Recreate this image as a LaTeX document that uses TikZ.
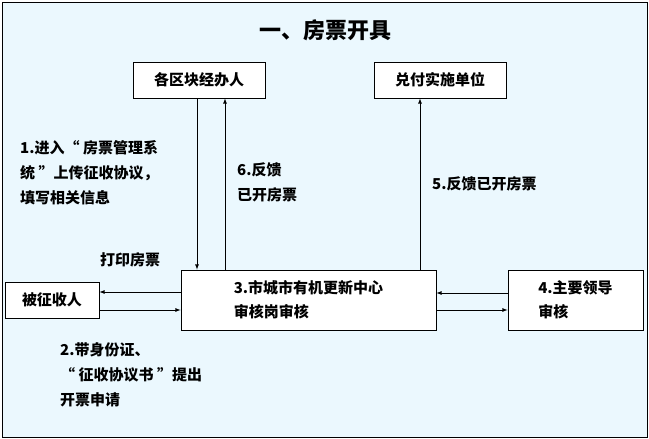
\documentclass[tikz,border=0pt]{standalone}
\usepackage{fontspec}
\setmainfont{Noto Sans CJK SC}
\begin{document}
\begin{tikzpicture}[x=1pt,y=-1pt,
  box/.style={draw=black,line width=0.8pt,fill=white,inner sep=0pt,font=\fontsize{15}{24}\selectfont\bfseries},
  lbl/.style={align=left,anchor=north west,inner sep=0pt,font=\fontsize{15}{25}\selectfont\bfseries},
  arr/.style={-latex,line width=0.8pt}]
\useasboundingbox (0,0) rectangle (649,439);
\draw [line width=0.8pt,fill=cyan!8] (2,2) rectangle (647,437);
\node (title) at (325,30) {\fontsize{22}{24}\selectfont\bfseries 一、房票开具};
% boxes
\node [box,minimum width=132,minimum height=36] (qk) at (199,80) {各区块经办人};
\node [box,minimum width=132,minimum height=36] (df) at (440,80) {兑付实施单位};
\node [box,minimum width=94,minimum height=36] (bz) at (52,300) {被征收人};
\node [box,minimum width=255,minimum height=60,align=left] (zx) at (308.5,300) {3.市城市有机更新中心\\审核岗审核};
\node [box,minimum width=135,minimum height=60,align=left] (ld) at (575.5,300) {4.主要领导\\审核};
% connectors
\draw [arr] (qk.south -| 197,0) -- (zx.north -| 197,0);
\draw [arr] (zx.north -| 225,0) -- (qk.south -| 225,0);
\draw [arr] (zx.north -| 420,0) -- (df.south -| 420,0);
\draw [arr] (zx.west |- 0,292) -- (bz.east |- 0,292);
\draw [arr] (bz.east |- 0,310) -- (zx.west |- 0,310);
\draw [arr] (ld.west |- 0,293) -- (zx.east |- 0,293);
\draw [arr] (zx.east |- 0,310) -- (ld.west |- 0,310);
% labels
\node [lbl] (l1) at (20,140) {1.进入“ 房票管理系\\统 ”上传征收协议，\\填写相关信息};
\node [lbl] (l6) at (237,162) {6.反馈\\已开房票};
\node [lbl] (l5) at (432,176) {5.反馈已开房票};
\node [lbl] (l7) at (100,252) {打印房票};
\node [lbl] (l2) at (60,342) {2.带身份证、\\“ 征收协议书 ”提出\\开票申请};
\end{tikzpicture}
\end{document}
